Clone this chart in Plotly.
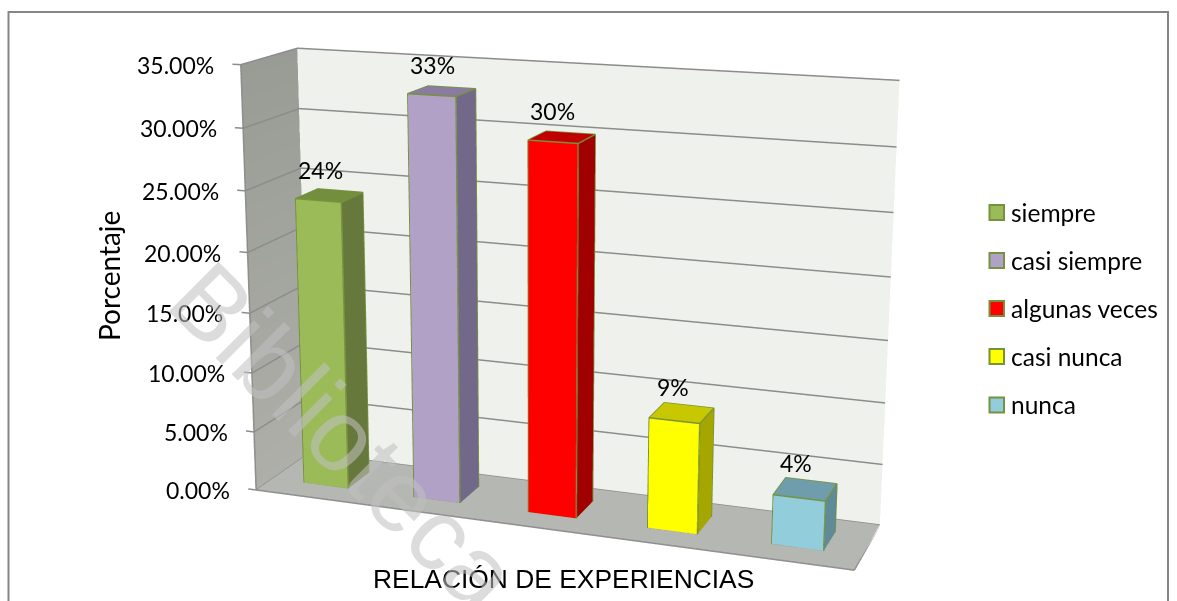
import plotly.graph_objects as go

CATEGORIES = ["siempre", "casi siempre", "algunas veces", "casi nunca", "nunca"]
VALUES = [24, 33, 30, 9, 4]
DATA_LABELS = ["24%", "33%", "30%", "9%", "4%"]
Z_TICKS = [0, 5, 10, 15, 20, 25, 30, 35]
Z_TICK_LABELS = ["0.00%", "5.00%", "10.00%", "15.00%", "20.00%", "25.00%", "30.00%", "35.00%"]
FRONT = ["#9bbb59", "#b2a1c7", "#ff0000", "#ffff00", "#92cddc"]
SIDE = ["#67783d", "#71688a", "#a00000", "#a6a600", "#5f8a97"]
TOP = ["#738f3e", "#8a7ca0", "#c00000", "#c8c800", "#6f9dac"]
EDGE = "#76923c"
GRID = "#8c8c8c"
W, H = 1280, 1705
LEFT, TOPY = -103, -571
BAR_W, D0, D1 = 0.4058, 0.3012, 0.7095
XR = [-0.1, 5]

def px(x):
    return (x - LEFT) / W
def py(y):
    return 1 - (y - TOPY) / H

traces = []
lit = dict(ambient=1, diffuse=0, specular=0, roughness=1, fresnel=0)

def face_mesh(faces, colors, name=None, vertex=False):
    xs, ys, zs, i, j, k, fc = [], [], [], [], [], [], []
    for f, col in zip(faces, colors):
        n = len(xs)
        for p in f:
            xs.append(p[0]); ys.append(p[1]); zs.append(p[2])
        i += [n, n]; j += [n + 1, n + 2]; k += [n + 2, n + 3]
        fc += [col, col]
    kw = dict(vertexcolor=colors[0]) if vertex else dict(facecolor=fc)
    return go.Mesh3d(x=xs, y=ys, z=zs, i=i, j=j, k=k, flatshading=True, lighting=lit,
                     hoverinfo="skip", name=name or "", showscale=False, **kw)

def line3d(segs, color, width):
    xs, ys, zs = [], [], []
    for s in segs:
        for p in s:
            xs.append(p[0]); ys.append(p[1]); zs.append(p[2])
        xs.append(None); ys.append(None); zs.append(None)
    return go.Scatter3d(x=xs, y=ys, z=zs, mode="lines", line=dict(color=color, width=width),
                        hoverinfo="skip", showlegend=False)

# walls
traces.append(face_mesh([[(0, 1, 0), (5, 1, 0), (5, 1, 35), (0, 1, 35)]], ["#eff2ec"]))
traces.append(face_mesh([[(0, 0, 0), (0, 1, 0), (5, 1, 0), (5, 0, 0)]], ["#b5b7b2"]))
traces.append(face_mesh([[(0, 0, 0), (0, 1, 0), (0, 1, 35), (0, 0, 35)]],
                        [["#adafa8", "#adafa8", "#999b95", "#999b95"]], vertex=True))
# gridlines
e = 0.003
seg = []
for z in Z_TICKS:
    seg.append([(e, e, z), (e, 1 - e, z), (5, 1 - e, z)])
    seg.append([(-0.07, e, z), (e, e, z)])
seg.append([(e, e, 0), (e, e, 35)])
seg.append([(e, e, 0), (5, e, 0), (5, 1 - e, 0)])
traces.append(line3d(seg, GRID, 3))

# bars
for n, v in enumerate(VALUES):
    xl, xr = n + .5 - BAR_W / 2, n + .5 + BAR_W / 2
    faces = [
        [(xl, D0, 0), (xr, D0, 0), (xr, D0, v), (xl, D0, v)],
        [(xr, D0, 0), (xr, D1, 0), (xr, D1, v), (xr, D0, v)],
        [(xl, D0, v), (xr, D0, v), (xr, D1, v), (xl, D1, v)],
    ]
    traces.append(face_mesh(faces, [FRONT[n], SIDE[n], TOP[n]], name=CATEGORIES[n]))
    edges = [[(xl, D0, 0), (xr, D0, 0), (xr, D1, 0), (xr, D1, v), (xl, D1, v), (xl, D0, v), (xl, D0, 0)],
             [(xr, D0, 0), (xr, D0, v), (xr, D1, v)], [(xl, D0, v), (xr, D0, v)]]
    traces.append(line3d(edges, EDGE, 3))

FONT = "Lato"
SIZE = 23
ann3d = []
for z, t in zip(Z_TICKS, Z_TICK_LABELS):
    ann3d.append(dict(x=0, y=0, z=z, text=t, showarrow=False, xanchor="right", xshift=-24,
                      font=dict(family=FONT, size=SIZE, color="#000")))
for n, v in enumerate(VALUES):
    ann3d.append(dict(x=n + .5, y=(D0 + D1) / 2, z=v, text=DATA_LABELS[n], showarrow=False,
                      xshift=-9, yshift=26, font=dict(family=FONT, size=SIZE, color="#000")))

shapes = [dict(type="path", xref="paper", yref="paper",
               path=f"M {px(8.5)} {py(601)} L {px(8.5)} {py(12)} L {px(1168)} {py(12)} L {px(1168)} {py(601)}",
               line=dict(color="#868686", width=2))]
ann = []
LEG_Y = [212.5, 260.5, 308.5, 356.5, 405]
for n, c in enumerate(CATEGORIES):
    y = LEG_Y[n]
    shapes.append(dict(type="rect", xref="paper", yref="paper", x0=px(989.5), x1=px(1004), y0=py(y - 7.5), y1=py(y + 7.5),
                       fillcolor=FRONT[n], line=dict(color=EDGE, width=2)))
    ann.append(dict(xref="paper", yref="paper", x=px(1009), y=py(y), text=c, showarrow=False, xanchor="left", yanchor="middle",
                    font=dict(family=FONT, size=24.5, color="#000")))
ann.append(dict(xref="paper", yref="paper", x=px(109), y=py(276), text="Porcentaje", textangle=-90, showarrow=False,
                xanchor="center", yanchor="middle", font=dict(family=FONT, size=28, color="#000")))
ann.append(dict(xref="paper", yref="paper", x=px(563), y=py(579), text="RELACIÓN DE EXPERIENCIAS", showarrow=False,
                xanchor="center", yanchor="middle", font=dict(family="Liberation Sans", size=26.4, color="#000")))
ann.append(dict(xref="paper", yref="paper", x=px(344), y=py(437), text="Biblioteca", textangle=45, showarrow=False,
                xanchor="center", yanchor="middle", font=dict(family="Liberation Sans", size=102, color="rgba(192,192,192,0.56)")))

ax = dict(visible=False, showspikes=False, autorange=False)
fig = go.Figure(traces)
fig.update_layout(
    width=W, height=H, margin=dict(l=0, r=0, t=0, b=0), autosize=False, showlegend=False,
    paper_bgcolor="white", shapes=shapes, annotations=ann, dragmode=False, hovermode=False,
    scene=dict(
        domain=dict(x=[0, 1], y=[0, 1]), aspectmode="manual",
        aspectratio=dict(x=1.442, y=0.2807, z=1),
        xaxis=dict(range=XR, **ax), yaxis=dict(range=[0, 1], **ax), zaxis=dict(range=[0, 35], **ax),
        camera=dict(eye=dict(x=1.4903, y=-4.175, z=1.1712), center=dict(x=-0.2495, y=0.5614, z=-0.1265),
                    up=dict(x=0, y=0, z=1), projection=dict(type="perspective")),
        annotations=ann3d, bgcolor="white", dragmode=False),
)
fig.write_html("out.html", config=dict(displayModeBar=False),
               post_script=f"document.documentElement.style.cssText='height:601px;overflow:hidden;margin:0';document.body.style.cssText='margin:0;height:601px;overflow:hidden';var g=document.querySelector('.plotly-graph-div');g.style.position='absolute';g.style.left='{LEFT}px';g.style.top='{TOPY}px';")
